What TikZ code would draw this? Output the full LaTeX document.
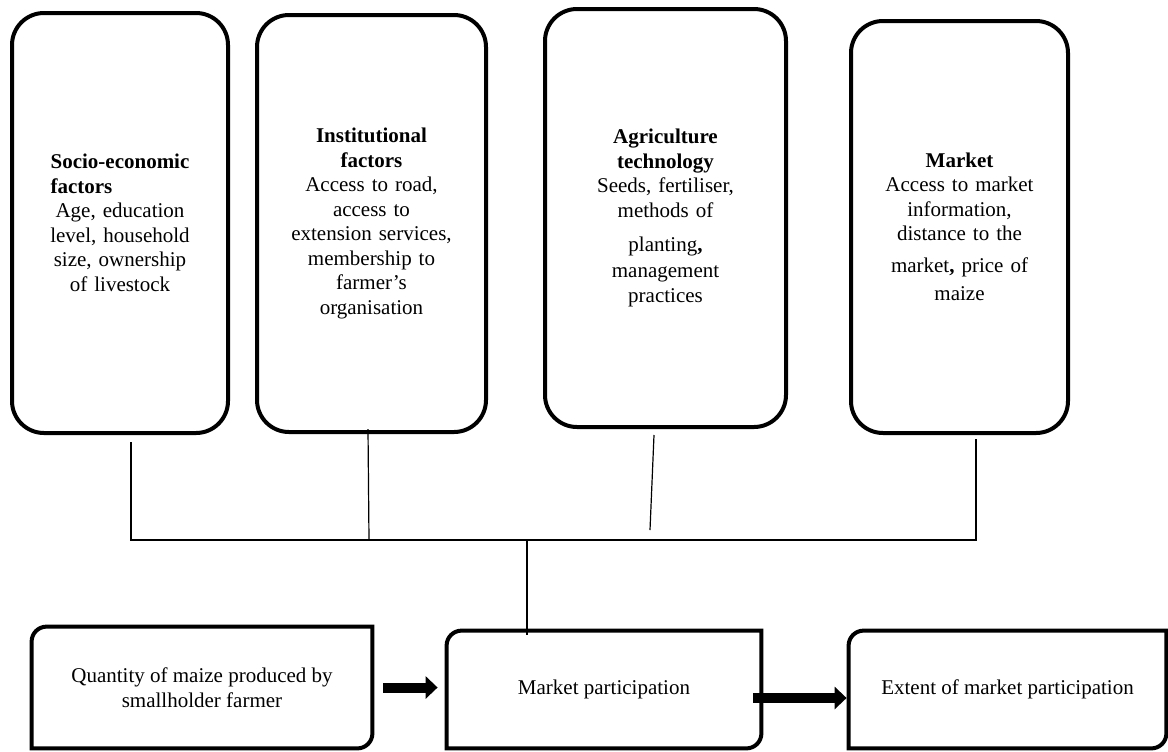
\documentclass[tikz,border=0pt]{standalone}
\usepackage{fontspec}
\setmainfont{Liberation Serif}
\usetikzlibrary{arrows.meta}

\begin{document}
\begin{tikzpicture}[x=0.5pt,y=-0.5pt,
    factor/.style={draw,line width=2pt,rounded corners=16pt,align=center,
      text width=96pt,font=\fontsize{10.5}{12.25}\selectfont},
    outcome/.style={align=center,font=\fontsize{10.5}{12.25}\selectfont},
    link/.style={line width=0.6pt},
    flow/.style={line width=5pt,-{Triangle[length=6pt,width=11pt]}}]
  \useasboundingbox (0,0) rectangle (1168,751);

  % determinants
  \node[factor,minimum width=108pt,minimum height=210pt] (socio) at (120,223)
    {\textbf{Socio-economic}\\ \leavevmode\rlap{\textbf{factors}}\phantom{\textbf{Socio-economic}}\\
     Age, education\\ level, household\\ size, ownership\\ of livestock};
  \node[factor,minimum width=114.5pt,minimum height=208.5pt] (inst) at (371.5,223.5)
    {\textbf{Institutional}\\ \textbf{factors}\\ Access to road,\\ access to\\
     extension services,\\ membership to\\ farmer’s\\ organisation};
  \node[factor,minimum width=120.5pt,minimum height=209pt] (agri) at (665.5,218)
    {\textbf{Agriculture}\\ \textbf{technology}\\ Seeds, fertiliser,\\ methods of\\[4.75pt]
     planting\textbf{,}\\[1pt] management\\ practices};
  \node[factor,minimum width=108.5pt,minimum height=206pt] (mkt) at (959.5,227)
    {\textbf{Market}\\ Access to market\\ information,\\ distance to the\\[3.75pt]
     market\textbf{,} price of\\[1.75pt] maize};

  % outcomes
  \node[outcome,minimum width=170pt,minimum height=60.5pt] (qty) at (202,687.5)
    {Quantity of maize produced by\\ smallholder farmer};
  \node[outcome,minimum width=157pt,minimum height=58.5pt] (mp) at (604,689.5)
    {Market participation};
  \node[outcome,minimum width=158.5pt,minimum height=58.5pt] (ext) at (1007.5,689.5)
    {Extent of market participation};
  \foreach \n in {qty,mp,ext}
    \draw[line width=2pt] (\n.north east) -- ([xshift=7.5pt]\n.north west)
      arc[start angle=90,end angle=180,radius=7.5pt] -- (\n.south west)
      -- ([xshift=-7.5pt]\n.south east)
      arc[start angle=270,end angle=360,radius=7.5pt] -- cycle;

  % bus joining the determinants
  \coordinate (hub) at (527,540);
  \draw[link] ([xshift=5.5pt,yshift=-3.5pt]socio.south) -- ([xshift=5.5pt]socio.south |- hub)
    -- ([xshift=8.25pt]mkt.south |- hub) -- ([xshift=8.25pt,yshift=-2pt]mkt.south);
  \draw[link] ([xshift=-1.75pt,yshift=2.5pt]inst.south) -- ([xshift=-1.25pt]inst.south |- hub);
  \draw[link] ([xshift=-5.75pt,yshift=-3pt]agri.south) -- ([xshift=-7.75pt,yshift=5pt]agri.south |- hub);
  \draw[link] (hub) -- ([yshift=-2pt]hub |- mp.north);

  \draw[flow] ([xshift=5.5pt]qty.east) -- ([xshift=-4.5pt]mp.west |- qty.east);
  \draw[flow] ([xshift=-4pt,yshift=-4.25pt]mp.east) -- ([xshift=-1pt,yshift=-4.25pt]ext.west);
\end{tikzpicture}
\end{document}
